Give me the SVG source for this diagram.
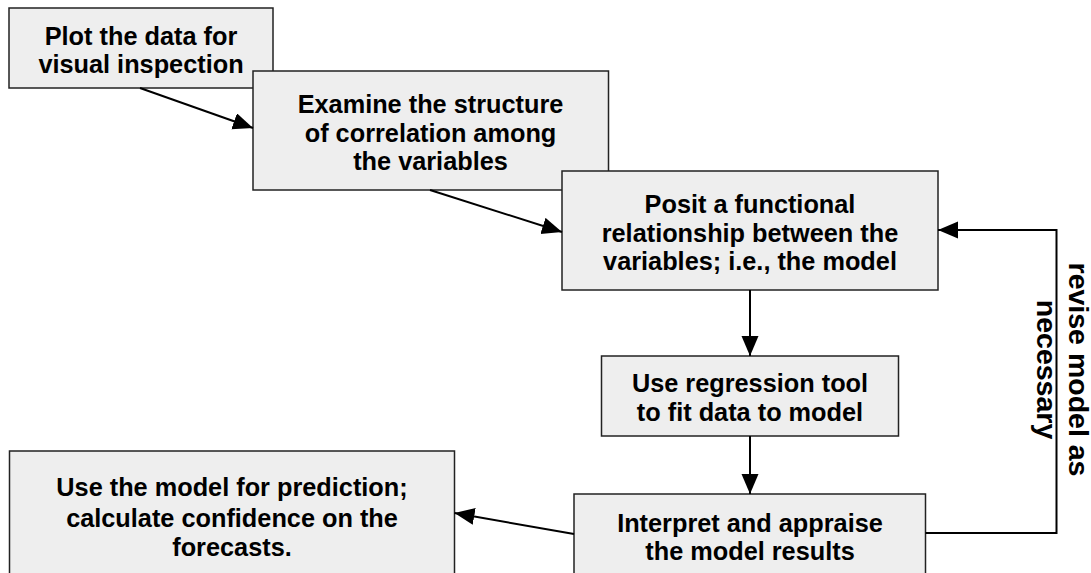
<svg xmlns="http://www.w3.org/2000/svg" width="1091" height="573" viewBox="0 0 1091 573">
<style>
.box{fill:#eeeeee;stroke:#222222;stroke-width:1.5}
.t{font-family:"Liberation Sans",Arial,sans-serif;font-weight:bold;font-size:25.3px;fill:#000;text-anchor:middle}
.r{font-family:"Liberation Sans",Arial,sans-serif;font-weight:bold;font-size:28.5px;fill:#000;text-anchor:middle}
.c{fill:none;stroke:#000;stroke-width:2}
</style>
<defs>
<marker id="ah" markerUnits="userSpaceOnUse" markerWidth="21" markerHeight="18" refX="20" refY="8.5" orient="auto">
<path d="M0,0 L20,8.5 L0,17 z" fill="#000"/>
</marker>
</defs>
<rect width="1091" height="573" fill="#fff"/>
<g id="n1">
<rect class="box" x="9" y="8" width="264" height="80"/>
<text class="t" x="141" y="45">Plot the data for</text>
<text class="t" x="141" y="73">visual inspection</text>
</g>
<g id="n2">
<rect class="box" x="253" y="71" width="355.5" height="119"/>
<text class="t" x="430.5" y="113">Examine the structure</text>
<text class="t" x="430.5" y="142">of correlation among</text>
<text class="t" x="430.5" y="170">the variables</text>
</g>
<g id="n3">
<rect class="box" x="562" y="171" width="376" height="119"/>
<text class="t" x="750" y="213">Posit a functional</text>
<text class="t" x="750" y="242">relationship between the</text>
<text class="t" x="750" y="270">variables; i.e., the model</text>
</g>
<g id="n4">
<rect class="box" x="601.5" y="356" width="297" height="80"/>
<text class="t" x="750" y="392">Use regression tool</text>
<text class="t" x="750" y="421">to fit data to model</text>
</g>
<g id="n5">
<rect class="box" x="574" y="494" width="351.5" height="100"/>
<text class="t" x="750" y="532">Interpret and appraise</text>
<text class="t" x="750" y="560">the model results</text>
</g>
<g id="n6">
<rect class="box" x="9.5" y="451" width="445" height="140"/>
<text class="t" x="232" y="496">Use the model for prediction;</text>
<text class="t" x="232" y="527">calculate confidence on the</text>
<text class="t" x="232" y="556">forecasts.</text>
</g>
<g id="connectors">
<line class="c" x1="140" y1="88" x2="253" y2="128" marker-end="url(#ah)"/>
<line class="c" x1="430" y1="190" x2="562" y2="232" marker-end="url(#ah)"/>
<line class="c" x1="750" y1="290" x2="750" y2="356" marker-end="url(#ah)"/>
<line class="c" x1="750" y1="436" x2="750" y2="494" marker-end="url(#ah)"/>
<line class="c" x1="574" y1="534" x2="454.5" y2="513" marker-end="url(#ah)"/>
<polyline class="c" points="925.5,533 1056.5,533 1056.5,230 938,230" marker-end="url(#ah)"/>
</g>
<g id="label" transform="translate(1068.5,369.5) rotate(90)">
<text class="r" x="0" y="0">revise model as</text>
<text class="r" x="0" y="32">necessary</text>
</g>
</svg>
